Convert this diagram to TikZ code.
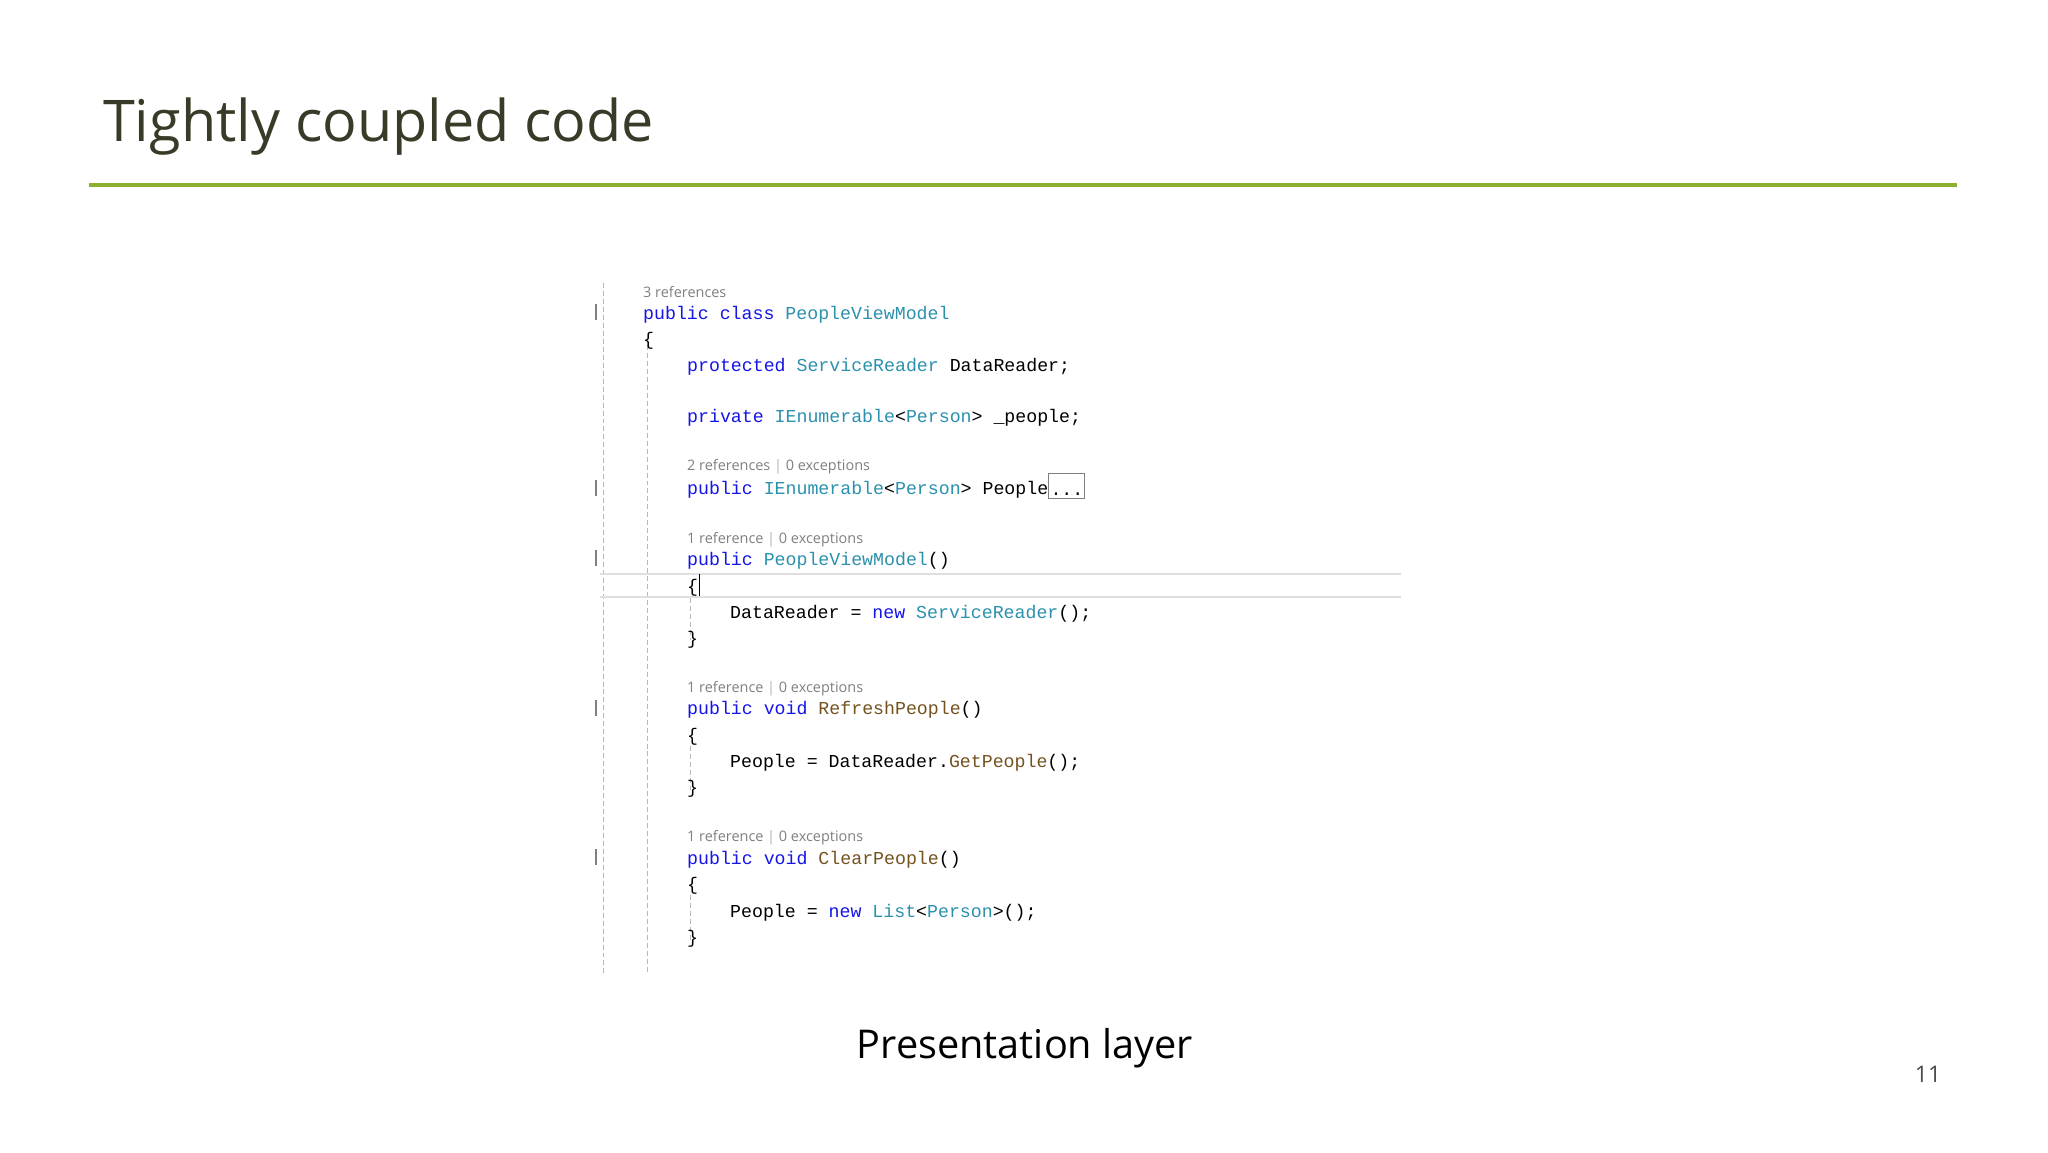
\documentclass[tikz,border=0pt]{standalone}
\usepackage{fontspec}
\setmainfont{Open Sans}
\newfontfamily\codefont{Liberation Mono}
\definecolor{kw}{HTML}{1515E8}
\definecolor{ty}{HTML}{2B91AF}
\definecolor{mt}{HTML}{74531F}
\definecolor{titlec}{HTML}{3A3A28}
\definecolor{rule}{HTML}{8DB030}
\definecolor{guide}{HTML}{B8B8B8}
\newcommand{\K}[1]{\textcolor{kw}{#1}}
\newcommand{\T}[1]{\textcolor{ty}{#1}}
\newcommand{\M}[1]{\textcolor{mt}{#1}}
\tikzset{
 code/.style={anchor=base west,inner sep=0pt,font=\codefont\fontsize{18.3}{22}\selectfont,text=black},
 meta/.style={anchor=base west,inner sep=0pt,font=\fontsize{14.5}{16}\selectfont,text=gray},
 guideline/.style={draw=guide,dash pattern=on 5pt off 3pt,line width=1pt},
 marker/.style={draw=gray,line width=1.3pt}
}
\begin{document}
\begin{tikzpicture}[x=1bp,y=-1bp]
\useasboundingbox (0,0) rectangle (2048,1152);
\fill[white] (0,0) rectangle (2048,1152);
\node[anchor=base west,inner sep=0pt,font=\fontsize{57.7}{66}\selectfont,text=titlec] (title) at (103,141) {Tightly coupled code};
\draw[rule,line width=4bp] (89,185) -- (1957,185);
% guides
\draw[guideline] (603,283) -- (603,973);
\draw[guideline] (647,345) -- (647,973);
\draw[guideline] (690,598) -- (690,640);
\draw[guideline] (690,746) -- (690,790);
\draw[guideline] (690,895) -- (690,940);
\foreach \y in {312,488,558,708,857} \draw[marker] (596,\y-8) -- (596,\y+8);
% highlight current line
\draw[gray!25,line width=1.5bp] (600,574) -- (1401,574);
\draw[gray!25,line width=1.5bp] (600,597) -- (1401,597);
% code
\def\a{643}\def\b{687}\def\c{730}
\node[meta] (m1) at (\a,297) {3 references};
\node[code] (l1) at (\a,319) {\K{public class} \T{PeopleViewModel}};
\node[code] (l2) at (\a,345) {\{};
\node[code] (l3) at (\b,371) {\K{protected} \T{ServiceReader} DataReader;};
\node[code] (l4) at (\b,422) {\K{private} \T{IEnumerable}<\T{Person}> \_people;};
\node[meta] (m2) at (\b,470) {2 references {\color{gray!60}|} 0 exceptions};
\node[code] (l5) at (\b,494) {\K{public} \T{IEnumerable}<\T{Person}> People};
\node[draw=gray,line width=1bp,minimum width=36bp,minimum height=25bp,inner sep=0pt,anchor=south west] (dots) at ([yshift=-5bp]l5.base east) {};
\node[code,anchor=base] (dotstext) at ([yshift=-1bp]dots.center |- l5.base) {...};
\node[meta] (m3) at (\b,543) {1 reference {\color{gray!60}|} 0 exceptions};
\node[code] (l6) at (\b,565) {\K{public} \T{PeopleViewModel}()};
\node[code] (l7) at (\b,592) {\{};
\draw[black,line width=1bp] (699,574) -- (699,596);
\node[code] (l8) at (\c,618) {DataReader = \K{new} \T{ServiceReader}();};
\node[code] (l9) at (\b,644) {\}};
\node[meta] (m4) at (\b,692) {1 reference {\color{gray!60}|} 0 exceptions};
\node[code] (l10) at (\b,714) {\K{public void} \M{RefreshPeople}()};
\node[code] (l11) at (\b,741) {\{};
\node[code] (l12) at (\c,767) {People = DataReader.\M{GetPeople}();};
\node[code] (l13) at (\b,793) {\}};
\node[meta] (m5) at (\b,841) {1 reference {\color{gray!60}|} 0 exceptions};
\node[code] (l14) at (\b,864) {\K{public void} \M{ClearPeople}()};
\node[code] (l15) at (\b,890) {\{};
\node[code] (l16) at (\c,917) {People = \K{new} \T{List}<\T{Person}>();};
\node[code] (l17) at (\b,943) {\}};
\node[anchor=base,inner sep=0pt,font=\fontsize{39.8}{46}\selectfont] (cap) at (1025,1058) {Presentation layer};
\node[anchor=base,inner sep=0pt,font=\fontsize{23}{26}\selectfont,text=black!70] (pg) at (1928,1082) {11};
\end{tikzpicture}
\end{document}
